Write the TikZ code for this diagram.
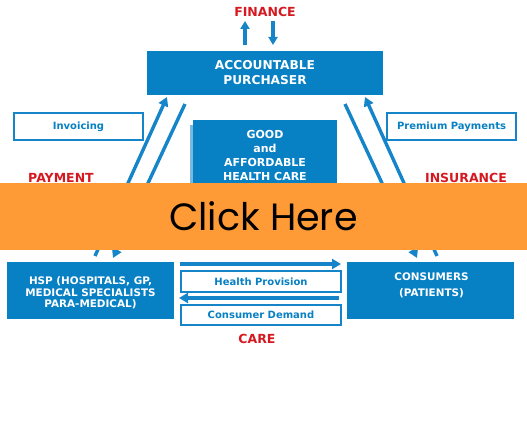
\documentclass[tikz,border=0pt]{standalone}
\usepackage{fontspec}
\setmainfont{DejaVu Sans}
\newfontfamily\clickfont{Poppins}
\usetikzlibrary{arrows.meta}
\definecolor{boxblue}{RGB}{8,128,196}
\definecolor{lineblue}{RGB}{22,132,200}
\definecolor{shadeblue}{RGB}{120,185,225}
\definecolor{labelred}{RGB}{212,26,32}
\definecolor{bandorange}{RGB}{255,155,54}
\begin{document}
\begin{tikzpicture}[x=1pt,y=-1pt,
  bluebox/.style={fill=boxblue, inner sep=0pt},
  bluetext/.style={text=white, align=center, inner sep=0pt,
    font=\bfseries\fontsize{10.4}{11.5}\selectfont},
  whitebox/.style={draw=lineblue, line width=1.6pt, fill=white, text=boxblue,
    inner sep=0pt, font=\bfseries\fontsize{10}{12}\selectfont},
  redlabel/.style={text=labelred, inner sep=0pt, font=\bfseries\fontsize{12.5}{14}\selectfont},
  flow/.style={draw=lineblue, line width=3.4pt, -{Triangle[length=9pt,width=10pt]}},
  finflow/.style={draw=lineblue, line width=3.2pt, -{Triangle[length=8pt,width=9pt]}}]
\useasboundingbox (0,0) rectangle (527,436);

% top
\node[redlabel] (finance) at (265,12) {FINANCE};
\node[bluebox, minimum width=236pt, minimum height=44pt] (purch) at (265,73) {};
\node[bluetext, font=\bfseries\fontsize{12.2}{15}\selectfont] (purchtext) at (purch.center) {ACCOUNTABLE\\PURCHASER};
\coordinate (fupS) at (245,45);
\coordinate (fupE) at (245,21);
\coordinate (fdnS) at (273,21);
\coordinate (fdnE) at (273,45);
\draw[finflow] (fupS) -- (fupE);
\draw[finflow] (fdnS) -- (fdnE);

% side labels
\node[whitebox, minimum width=129pt, minimum height=27pt] (invoice) at (78.5,126.5) {Invoicing};
\node[whitebox, minimum width=129pt, minimum height=27pt] (premium) at (451.5,126.5) {Premium Payments};
\node[redlabel] (payment) at (61,178) {PAYMENT};
\node[redlabel] (insurance) at (466,178) {INSURANCE};

% central box
\fill[shadeblue] (189.5,125) rectangle (193,245);
\node[bluebox, minimum width=144pt, minimum height=125pt] (good) at (265,182.5) {};
\node[bluetext, anchor=north, font=\bfseries\fontsize{11}{14}\selectfont] (goodtext) at (265,130)
  {GOOD\\and\\AFFORDABLE\\HEALTH CARE};

% bottom boxes
\node[bluebox, minimum width=167pt, minimum height=57pt] (hsp) at (90.5,290.5) {};
\node[bluetext] (hsptext) at (90.5,293)
  {HSP (HOSPITALS, GP,\\MEDICAL SPECIALISTS\\PARA-MEDICAL)};
\node[bluebox, minimum width=167pt, minimum height=57pt] (cons) at (430.5,290.5) {};
\node[bluetext, font=\bfseries\fontsize{10.4}{16}\selectfont] (constext) at (431.5,285)
  {CONSUMERS\\(PATIENTS)};
\node[whitebox, minimum width=160pt, minimum height=21pt] (health) at (261,281.5) {Health Provision};
\node[whitebox, minimum width=160pt, minimum height=20pt] (demand) at (261,315) {Consumer Demand};
\node[redlabel] (care) at (257,339) {CARE};

\coordinate (hpS) at (180,264);
\coordinate (hpE) at (341,264);
\coordinate (cdS) at (339,298);
\coordinate (cdE) at (179,298);
\draw[flow] (hpS) -- (hpE);
\draw[flow] (cdS) -- (cdE);

% diagonals
\coordinate (lo1) at (95,256);
\coordinate (lo2) at (167,97);
\coordinate (li1) at (185,104);
\coordinate (li2) at (113,258);
\coordinate (ri1) at (345,104);
\coordinate (ri2) at (417,258);
\coordinate (ro1) at (437,256);
\coordinate (ro2) at (365,97);
\draw[flow] (lo1) -- (lo2);
\draw[flow] (li1) -- (li2);
\draw[flow] (ri1) -- (ri2);
\draw[flow] (ro1) -- (ro2);

% orange band
\node[fill=bandorange, minimum width=527pt, minimum height=67pt, inner sep=0pt,
  font=\clickfont\fontsize{38}{40}\selectfont, text=black] (band) at (263.5,216.5) {Click Here};
\end{tikzpicture}
\end{document}
